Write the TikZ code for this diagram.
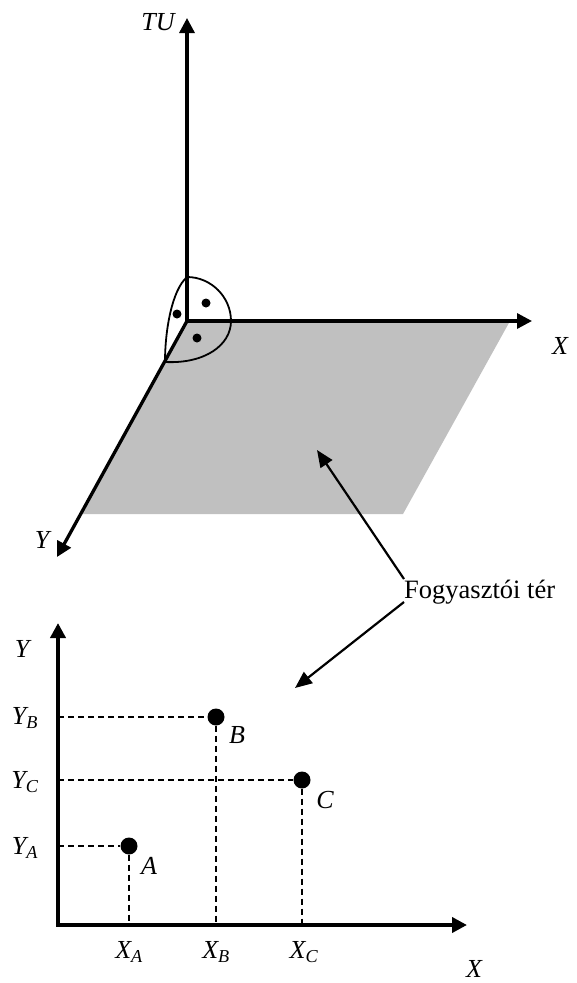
\documentclass[tikz,border=0pt]{standalone}
\usepackage{fontspec}
\setmainfont{Liberation Serif}
\usetikzlibrary{arrows.meta}
\definecolor{planegray}{RGB}{192,192,192}
\newcommand{\lblsub}[2]{\textit{#1}\textsubscript{\textit{#2}}}
\begin{document}
\begin{tikzpicture}[x=1pt,y=-1pt,
  axisthree/.style={line width=3.3pt,-{Triangle[length=15pt,width=15pt]}},
  axistwo/.style={line width=3.8pt,{Triangle[length=15pt,width=15pt]}-{Triangle[length=15pt,width=15pt]}},
  pointer/.style={line width=2.2pt,-{Triangle[length=17pt,width=14pt]}},
  octant/.style={line width=1.8pt},
  dashln/.style={line width=1.8pt,dash pattern=on 6pt off 4pt},
  lbl/.style={font=\fontsize{26}{30}\selectfont\itshape,inner sep=0pt},
  txt/.style={font=\fontsize{26.5}{30}\selectfont,inner sep=0pt},
  smalldot/.style={circle,fill=black,inner sep=0pt,minimum size=9pt},
  bigdot/.style={circle,fill=black,inner sep=0pt,minimum size=17pt}
]
\useasboundingbox (0,0) rectangle (577,983);

% ---------- 3D part ----------
\coordinate (O) at (187,321);
\coordinate (TUtip) at (187,18);
\coordinate (Xtip) at (532,321);
\coordinate (Ytip) at (57,557);

\fill[planegray] (O) -- (510,321) -- (403,514) -- (81,514) -- cycle;

\draw[octant] (187,277) .. controls (211,277) and (231,297) .. (231,321)
  .. controls (231,345) and (205,364) .. (165,362)
  .. controls (165,330) and (172,290) .. cycle;

\draw[axisthree] (O) -- (TUtip);
\draw[axisthree] (O) -- (Xtip);
\draw[axisthree] (O) -- (Ytip);

\node[smalldot] (d1) at (206,303) {};
\node[smalldot] (d2) at (177,314) {};
\node[smalldot] (d3) at (197,338) {};

\node[lbl] (TU) at (158,22) {TU};
\node[lbl] (X3) at (560,346) {X};
\node[lbl] (Y3) at (42,540) {Y};

% ---------- label and pointers ----------
\node[txt,anchor=base west] (fog) at (404,598) {Fogyasztói tér};
\coordinate (fogA) at (404,579);
\coordinate (fogB) at (404,602);
\coordinate (planept) at (317,450);
\coordinate (charpt) at (295,688);
\draw[pointer] (fogA) -- (planept);
\draw[pointer] (fogB) -- (charpt);

% ---------- 2D part ----------
\coordinate (O2) at (58,925);
\coordinate (Y2tip) at (58,623);
\coordinate (X2tip) at (467,925);
\draw[axistwo] (Y2tip) -- (O2) -- (X2tip);

\node[bigdot] (A) at (129,846) {};
\node[bigdot] (B) at (216,717) {};
\node[bigdot] (C) at (302,780) {};

\coordinate (yA) at (58,846);
\coordinate (yB) at (58,717);
\coordinate (yC) at (58,780);
\coordinate (xA) at (129,925);
\coordinate (xB) at (216,925);
\coordinate (xC) at (302,925);

\draw[dashln] (yA) -- (A);
\draw[dashln] (yB) -- (B);
\draw[dashln] (yC) -- (C);
\draw[dashln] (A) -- (xA);
\draw[dashln] (B) -- (xB);
\draw[dashln] (C) -- (xC);

\node[lbl] (Alab) at (149,866) {A};
\node[lbl] (Blab) at (237,735) {B};
\node[lbl] (Clab) at (325,800) {C};

\node[lbl] (Y2) at (22,649) {Y};
\node[lbl] (X2) at (474,969) {X};
\node[lbl] (YAlab) at (25,848) {\lblsub{Y}{A}};
\node[lbl] (YBlab) at (25,718) {\lblsub{Y}{B}};
\node[lbl] (YClab) at (25,782) {\lblsub{Y}{C}};
\node[lbl] (XAlab) at (129,952) {\lblsub{X}{A}};
\node[lbl] (XBlab) at (216,952) {\lblsub{X}{B}};
\node[lbl] (XClab) at (304,952) {\lblsub{X}{C}};
\end{tikzpicture}
\end{document}
